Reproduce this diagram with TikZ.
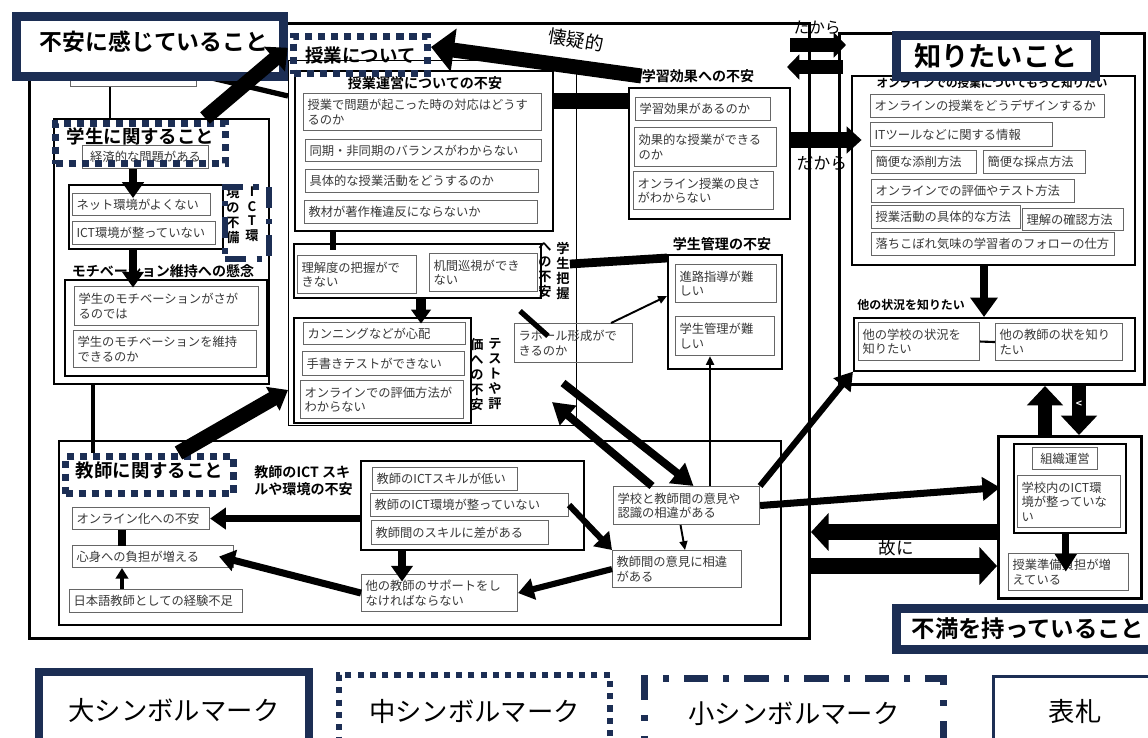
\documentclass[tikz,border=0pt]{standalone}
\usepackage{fontspec}
\setmainfont{Noto Sans CJK JP}[BoldFont={Noto Sans CJK JP Bold}]
\usetikzlibrary{arrows.meta}
\definecolor{navy}{RGB}{28,46,84}
\definecolor{boxgray}{gray}{.4}
\definecolor{textgray}{gray}{.22}
\newlength\unitpx
\setlength\unitpx{0.02cm}
\newcommand\itemfont{\fontsize{7}{8.2}\selectfont}
\newcommand\headfont{\bfseries\fontsize{8}{9.6}\selectfont}
\newcommand\vertfont{\bfseries\fontsize{7.5}{8.5}\selectfont}
\newcommand\legendfont{\fontsize{15}{18}\selectfont}

\tikzset{
  item/.style={draw=boxgray, line width=0.6pt, anchor=north west, align=left,
    inner xsep=4\unitpx, inner ysep=0pt, text=textgray, font=\itemfont},
  group/.style={draw=black, line width=0.9pt, anchor=north west, inner sep=0pt},
  frame/.style={draw=black, line width=1.7pt, anchor=north west, inner sep=0pt},
  bigmark/.style={draw=navy, line width=5pt, fill=white, anchor=north west, inner sep=0pt},
  midmark/.style={draw=navy, line width=4pt, dash pattern=on 4pt off 3.4pt, anchor=north west,
    inner sep=0pt, font=\bfseries\fontsize{10.5}{12}\selectfont},
  smallmark/.style={draw=navy, line width=3.5pt, dash pattern=on 12pt off 6pt on 3pt off 6pt,
    anchor=north west, inner sep=0pt},
  tagmark/.style={draw=navy, line width=1.8pt, anchor=north west, inner sep=0pt},
  heading/.style={font=\headfont, inner sep=0pt},
  vert/.style={font=\vertfont, align=center, anchor=north, inner sep=0pt},
  fatarrow/.style={line width=8.5pt, -{Triangle[length=13pt,width=24pt]}},
  bigarrow/.style={line width=8.5pt, -{Triangle[length=10pt,width=19pt]}},
  midarrow/.style={line width=4pt, -{Triangle[length=9pt,width=12pt]}},
  diagarrow/.style={line width=4.5pt, -{Triangle[length=12pt,width=14pt]}},
  thinarrow/.style={line width=1.1pt, -{Triangle[length=5pt,width=4.5pt]}},
  fatline/.style={line width=9pt},
  midline/.style={line width=3pt},
}

\begin{document}
\begin{tikzpicture}[x=\unitpx, y=-\unitpx]
  \fill[white] (0,0) rectangle (1148,737);
  \useasboundingbox (0,0) rectangle (1148,737);

  % outer frames
  \node[frame, minimum width=780\unitpx, minimum height=615\unitpx] (anxframe) at (28,22) {};
  \node[frame, minimum width=305\unitpx, minimum height=351\unitpx] (knowframe) at (838,32) {};

  % students
  \node[item, text width=118\unitpx, minimum height=24\unitpx] (onlinebox) at (70,62) {};
  \node[group, minimum width=215\unitpx, minimum height=265\unitpx] (stbox) at (53,118) {};
  \node[item, align=center, text width=118\unitpx, minimum height=23\unitpx] (ec) at (82,145) {経済的な問題がある};
  \node[group, minimum width=154\unitpx, minimum height=64\unitpx] (ictst) at (68,184) {};
  \node[item, text width=130\unitpx, minimum height=22\unitpx] (s1) at (72,193) {ネット環境がよくない};
  \node[item, text width=135\unitpx, minimum height=23\unitpx] (s2) at (72,221) {ICT環境が整っていない};
  \node[vert] (stlab1) at (233,186) {境\\の\\不\\備};
  \node[vert] (stlab2) at (252,186) {I\\C\\T\\環};
  \node[heading] (mttl) at (163,271) {モチベーション維持への懸念};
  \node[group, minimum width=202\unitpx, minimum height=96\unitpx] (mbox) at (64,279) {};
  \node[item, text width=176\unitpx, minimum height=39\unitpx] (m1) at (74,286) {学生のモチベーションがさが\\るのでは};
  \node[item, text width=175\unitpx, minimum height=37\unitpx] (m2) at (73,330) {学生のモチベーションを維持\\できるのか};
  \node[midmark, text depth=9pt, minimum width=170\unitpx, minimum height=40\unitpx] (stttl) at (52,120) {学生に関すること};
  \node[smallmark, minimum width=44\unitpx, minimum height=72\unitpx] (ictmark) at (222,184) {};

  % lessons
  \node[group, line width=0.8pt, minimum width=288\unitpx, minimum height=365\unitpx] (jgbox) at (288,60) {};
  \node[group, minimum width=258\unitpx, minimum height=160\unitpx] (opbox) at (294,70) {};
  \node[heading] (opttl) at (425,83) {授業運営についての不安};
  \node[item, text width=230\unitpx, minimum height=37\unitpx] (op1) at (303,93) {授業で問題が起こった時の対応はどうす\\るのか};
  \node[item, text width=228\unitpx, minimum height=22\unitpx] (op2) at (305,139) {同期・非同期のバランスがわからない};
  \node[item, text width=225\unitpx, minimum height=23\unitpx] (op3) at (305,169) {具体的な授業活動をどうするのか};
  \node[item, text width=225\unitpx, minimum height=23\unitpx] (op4) at (304,200) {教材が著作権違反にならないか};
  \node[midmark, minimum width=134\unitpx, minimum height=37\unitpx] (jgttl) at (290,33) {授業について};
  \node[group, minimum width=247\unitpx, minimum height=54\unitpx] (grbox) at (293,243) {};
  \node[item, text width=111\unitpx, minimum height=38\unitpx] (gr1) at (297,255) {理解度の把握がで\\きない};
  \node[item, text width=100\unitpx, minimum height=38\unitpx] (gr2) at (429,253) {机間巡視ができ\\ない};
  \node[vert] (grlab1) at (545,242) {へ\\の\\不\\安};
  \node[vert] (grlab2) at (563,242) {学\\生\\把\\握};
  \node[group, minimum width=177\unitpx, minimum height=105\unitpx] (tsbox) at (293,317) {};
  \node[item, text width=154\unitpx, minimum height=22\unitpx] (ts1) at (303,322) {カンニングなどが心配};
  \node[item, text width=154\unitpx, minimum height=24\unitpx] (ts2) at (302,351) {手書きテストができない};
  \node[item, text width=155\unitpx, minimum height=38\unitpx] (ts3) at (300,380) {オンラインでの評価方法が\\わからない};
  \node[vert] (tslab1) at (477,338) {価\\へ\\の\\不\\安};
  \node[vert] (tslab2) at (495,338) {テ\\ス\\ト\\や\\評};
  \node[item, text width=110\unitpx, minimum height=39\unitpx] (rp) at (514,323) {ラポール形成がで\\きるのか};

  \node[heading] (lettl) at (698,76) {学習効果への不安};
  \node[group, minimum width=161\unitpx, minimum height=131\unitpx] (lebox) at (628,87) {};
  \node[item, text width=127\unitpx, minimum height=23\unitpx] (le1) at (635,97) {学習効果があるのか};
  \node[item, text width=134\unitpx, minimum height=39\unitpx] (le2) at (634,127) {効果的な授業ができる\\のか};
  \node[item, text width=132\unitpx, minimum height=38\unitpx] (le3) at (633,171) {オンライン授業の良さ\\がわからない};

  \node[heading] (gmttl) at (722,244) {学生管理の不安};
  \node[group, minimum width=114\unitpx, minimum height=114\unitpx] (gmbox) at (667,254) {};
  \node[item, text width=93\unitpx, minimum height=38\unitpx] (gm1) at (675,264) {進路指導が難\\しい};
  \node[item, text width=91\unitpx, minimum height=39\unitpx] (gm2) at (675,316) {学生管理が難\\しい};

  % teachers
  \node[group, minimum width=722\unitpx, minimum height=184\unitpx] (thbox) at (58,440) {};
  \node[midmark, text depth=6pt, minimum width=168\unitpx, minimum height=37\unitpx] (thttl) at (62,453) {教師に関すること};
  \node[heading, anchor=north west, align=left] (ictttl) at (254,465) {教師のICT スキ\\ルや環境の不安};
  \node[group, minimum width=223\unitpx, minimum height=89\unitpx] (ictbox) at (360,460) {};
  \node[item, text width=137\unitpx, minimum height=23\unitpx] (ic1) at (372,467) {教師のICTスキルが低い};
  \node[item, text width=190\unitpx, minimum height=23\unitpx] (ic2) at (370,493) {教師のICT環境が整っていない};
  \node[item, text width=169\unitpx, minimum height=24\unitpx] (ic3) at (371,520) {教師間のスキルに差がある};
  \node[item, text width=129\unitpx, minimum height=22\unitpx] (t1) at (72,507) {オンライン化への不安};
  \node[item, text width=153\unitpx, minimum height=22\unitpx] (t2) at (72,545) {心身への負担が増える};
  \node[item, text width=165\unitpx, minimum height=23\unitpx] (t3) at (69,589) {日本語教師としての経験不足};
  \node[item, text width=148\unitpx, minimum height=37\unitpx] (t4) at (361,574) {他の教師のサポートをし\\なければならない};
  \node[item, text width=121\unitpx, minimum height=37\unitpx] (t5) at (612,550) {教師間の意見に相違\\がある};
  \node[item, text width=138\unitpx, minimum height=38\unitpx] (sc) at (613,486) {学校と教師間の意見や\\認識の相違がある};

  % what they want to know
  \node[group, minimum width=283\unitpx, minimum height=189\unitpx] (olbox) at (851,75) {};
  \node[heading, font=\bfseries\fontsize{6.6}{8}\selectfont] (olttl) at (992,83) {オンラインでの授業についてもっと知りたい};
  \node[item, text width=226\unitpx, minimum height=23\unitpx] (kn1) at (870,94) {オンラインの授業をどうデザインするか};
  \node[item, text width=174\unitpx, minimum height=24\unitpx] (kn2) at (870,122) {ITツールなどに関する情報};
  \node[item, text width=97\unitpx, minimum height=23\unitpx] (kn3) at (871,150) {簡便な添削方法};
  \node[item, text width=94\unitpx, minimum height=23\unitpx] (kn4) at (983,150) {簡便な採点方法};
  \node[item, text width=195\unitpx, minimum height=23\unitpx] (kn5) at (871,179) {オンラインでの評価やテスト方法};
  \node[item, text width=141\unitpx, minimum height=23\unitpx] (kn6) at (871,205) {授業活動の具体的な方法};
  \node[item, text width=93\unitpx, minimum height=22\unitpx] (kn7) at (1022,208) {理解の確認方法};
  \node[item, text width=235\unitpx, minimum height=23\unitpx] (kn8) at (871,232) {落ちこぼれ気味の学習者のフォローの仕方};
  \node[heading, anchor=west, font=\bfseries\fontsize{6.8}{8}\selectfont] (otttl) at (857,305) {他の状況を知りたい};
  \node[group, minimum width=281\unitpx, minimum height=53\unitpx] (otbox) at (853,317) {};
  \node[item, text width=113\unitpx, minimum height=38\unitpx] (ot1) at (858,322) {他の学校の状況を\\知りたい};
  \node[item, text width=119\unitpx, minimum height=37\unitpx] (ot2) at (995,323) {他の教師の状を知り\\たい};

  % organisation
  \node[frame, minimum width=143\unitpx, minimum height=162\unitpx] (sobox) at (997,435) {};
  \node[group, minimum width=112\unitpx, minimum height=89\unitpx] (soinner) at (1013,443) {};
  \node[item, align=center, text width=57\unitpx, minimum height=22\unitpx] (so0) at (1032,447) {組織運営};
  \node[item, text width=95\unitpx, minimum height=52\unitpx] (so1) at (1017,475) {学校内のICT環\\境が整っていな\\い};
  \node[item, text width=112\unitpx, minimum height=37\unitpx] (so2) at (1008,553) {授業準備負担が増\\えている};

  % connectors
  \draw[line width=1.5pt] (onlinebox.south -| 110,0) -- (stbox.north -| 110,0);
  \draw[midline] (onlinebox.east) -- (jgbox.west |- 0,96);
  \draw[midarrow] (ec.south -| 133,0) -- ++(0,29);
  \draw[midarrow] (ictst.south -| 133,0) -- ++(0,38);
  \draw[line width=2.5pt] (stbox.south -| 93,0) -- (thttl.north -| 93,0);
  \draw[bigarrow, -{Triangle[length=10pt,width=15pt]}] ([xshift=29\unitpx]thttl.north) -- (jgbox.west |- 0,390);

  \draw[midline] (opbox.south -| 333,0) -- ++(0,18);
  \draw[midarrow, line width=5.5pt, -{Triangle[length=8pt,width=11pt]}] (grbox.south -| 421,0) -- ++(0,25);
  \draw[fatline] (opbox.east |- 0,101) -- (lebox.west |- 0,101);
  \draw[line width=5pt] (grlab2.east |- 0,264) -- (gmbox.west |- 0,258);
  \draw[midline] (rp.north west) ++(6,-12) -- ++(28,25);
  \draw[thinarrow] ([xshift=-22\unitpx]rp.north east) -- (gmbox.west |- 0,296);
  \draw[fatarrow] (lettl.west) -- ([yshift=8\unitpx]jgttl.east);
  \node[font=\fontsize{10.5}{12}\selectfont, rotate=-9] (doubt) at (576,40) {懐疑的};

  \coordinate (tpa) at (790,45);
  \coordinate (tpb) at (846,45);
  \coordinate (tpc) at (843,67);
  \coordinate (tpd) at (787,67);
  \draw[bigarrow, line width=7.5pt, -{Triangle[length=7pt,width=14pt]}] (tpa) -- (tpb);
  \draw[bigarrow, line width=7.5pt, -{Triangle[length=7pt,width=14pt]}] (tpc) -- (tpd);
  \node[font=\fontsize{9}{10}\selectfont] (sotop) at (817,28) {たから};
  \draw[bigarrow, line width=9pt, -{Triangle[length=8.5pt,width=15pt]}] (lebox.east |- 0,140) -- ++(71,0);
  \node[font=\fontsize{9.5}{11}\selectfont] (somid) at (822,163) {だから};

  \draw[midarrow, line width=4.5pt, -{Triangle[length=11pt,width=15pt]}] (olbox.south -| 984,0) -- (otbox.north -| 984,0);
  \draw[line width=1.2pt] (ot1.east) -- (ot2.west);
  \draw[bigarrow, -{Triangle[length=11pt,width=20pt]}] (sobox.north -| 1045,0) -- (knowframe.south -| 1045,0);
  \draw[bigarrow, -{Triangle[length=11pt,width=20pt]}] (knowframe.south -| 1079,0) -- (sobox.north -| 1079,0);
  \node[text=white, font=\bfseries\fontsize{6}{7}\selectfont, inner sep=0pt] (lt) at (1079,404) {<};
  \draw[midarrow, -{Triangle[length=10pt,width=12pt]}] ([xshift=-4\unitpx]soinner.south) -- ++(0,38);
  \draw[bigarrow, line width=9.5pt, -{Triangle[length=10pt,width=21pt]}] (sobox.west |- 0,532) -- (anxframe.east |- 0,532);
  \draw[bigarrow, line width=9.5pt, -{Triangle[length=10pt,width=21pt]}] (anxframe.east |- 0,566) -- (sobox.west |- 0,566);
  \node[font=\fontsize{10}{12}\selectfont] (hence) at (896,548) {故に};

  \draw[midarrow] (ictbox.west |- t1.east) -- (t1.east);
  \draw[midline, line width=4pt] (t1.south west) ++(50,0) -- ++(0,16);
  \draw[thinarrow, line width=2pt, -{Triangle[length=6pt,width=7pt]}] (t3.north west) ++(53,0) -- ++(0,-21);
  \draw[midarrow] (t4.west) -- ([xshift=-15\unitpx]t2.east);
  \draw[midarrow, line width=4.5pt] (ictbox.south west) ++(42,0) -- ++(0,31);
  \draw[midarrow, line width=3.5pt] (ic2.east) -- (t5.north west);
  \draw[midarrow, line width=3.5pt] (t5.west) -- (t4.east);
  \draw[thinarrow] ([xshift=-6\unitpx]sc.south) -- (t5.north -| 685,0);
  \draw[thinarrow, line width=1.5pt] (sc.north -| 710,0) -- (gm2.south -| 710,0);
  \coordinate (jga) at (563,383);
  \coordinate (jgb) at (552,402);
  \draw[diagarrow] (jga) -- ([xshift=7\unitpx]sc.north);
  \draw[diagarrow] ([xshift=39\unitpx]sc.north west) -- (jgb);
  \draw[midarrow, -{Triangle[length=10pt,width=13pt]}] (sc.east) -- ([xshift=-17\unitpx, yshift=14\unitpx]so1.west);
  \draw[midarrow, line width=3.5pt, -{Triangle[length=10pt,width=12pt]}] (sc.north east) -- (otbox.south west);

  % symbol marks
  \node[bigmark, minimum width=267\unitpx, minimum height=60\unitpx] (bigttl) at (12,12) {};
  \node[font=\bfseries\fontsize{13}{15}\selectfont] (bigtxt) at (154,42) {不安に感じていること};
  \draw[fatarrow, -{Triangle[length=10pt,width=18pt]}] (stbox.north -| 205,0) -- ([yshift=33\unitpx]bigttl.south east);
  \node[bigmark, font=\bfseries\fontsize{15.5}{18}\selectfont, minimum width=199\unitpx, minimum height=41\unitpx] (knowttl) at (892,31) {知りたいこと};
  \node[bigmark, font=\bfseries\fontsize{13.3}{15}\selectfont, minimum width=263\unitpx, minimum height=41\unitpx] (fumanttl) at (892,604) {不満を持っていること};

  % legend
  \node[bigmark, line width=4.5pt, font=\legendfont, minimum width=270\unitpx, minimum height=77\unitpx] (lgbig) at (35,668) {大シンボルマーク};
  \node[midmark, line width=3.5pt, dash pattern=on 3.5pt off 3.5pt, font=\legendfont, minimum width=271\unitpx, minimum height=73\unitpx] (lgmid) at (336,672) {中シンボルマーク};
  \node[smallmark, line width=4pt, dash pattern=on 14pt off 8.5pt on 3.4pt off 8.5pt, font=\legendfont, minimum width=299\unitpx, minimum height=70\unitpx] (lgsmall) at (641,675) {小シンボルマーク};
  \node[tagmark, font=\legendfont, minimum width=163\unitpx, minimum height=70\unitpx] (lgtag) at (992,675) {表札};
\end{tikzpicture}
\end{document}
